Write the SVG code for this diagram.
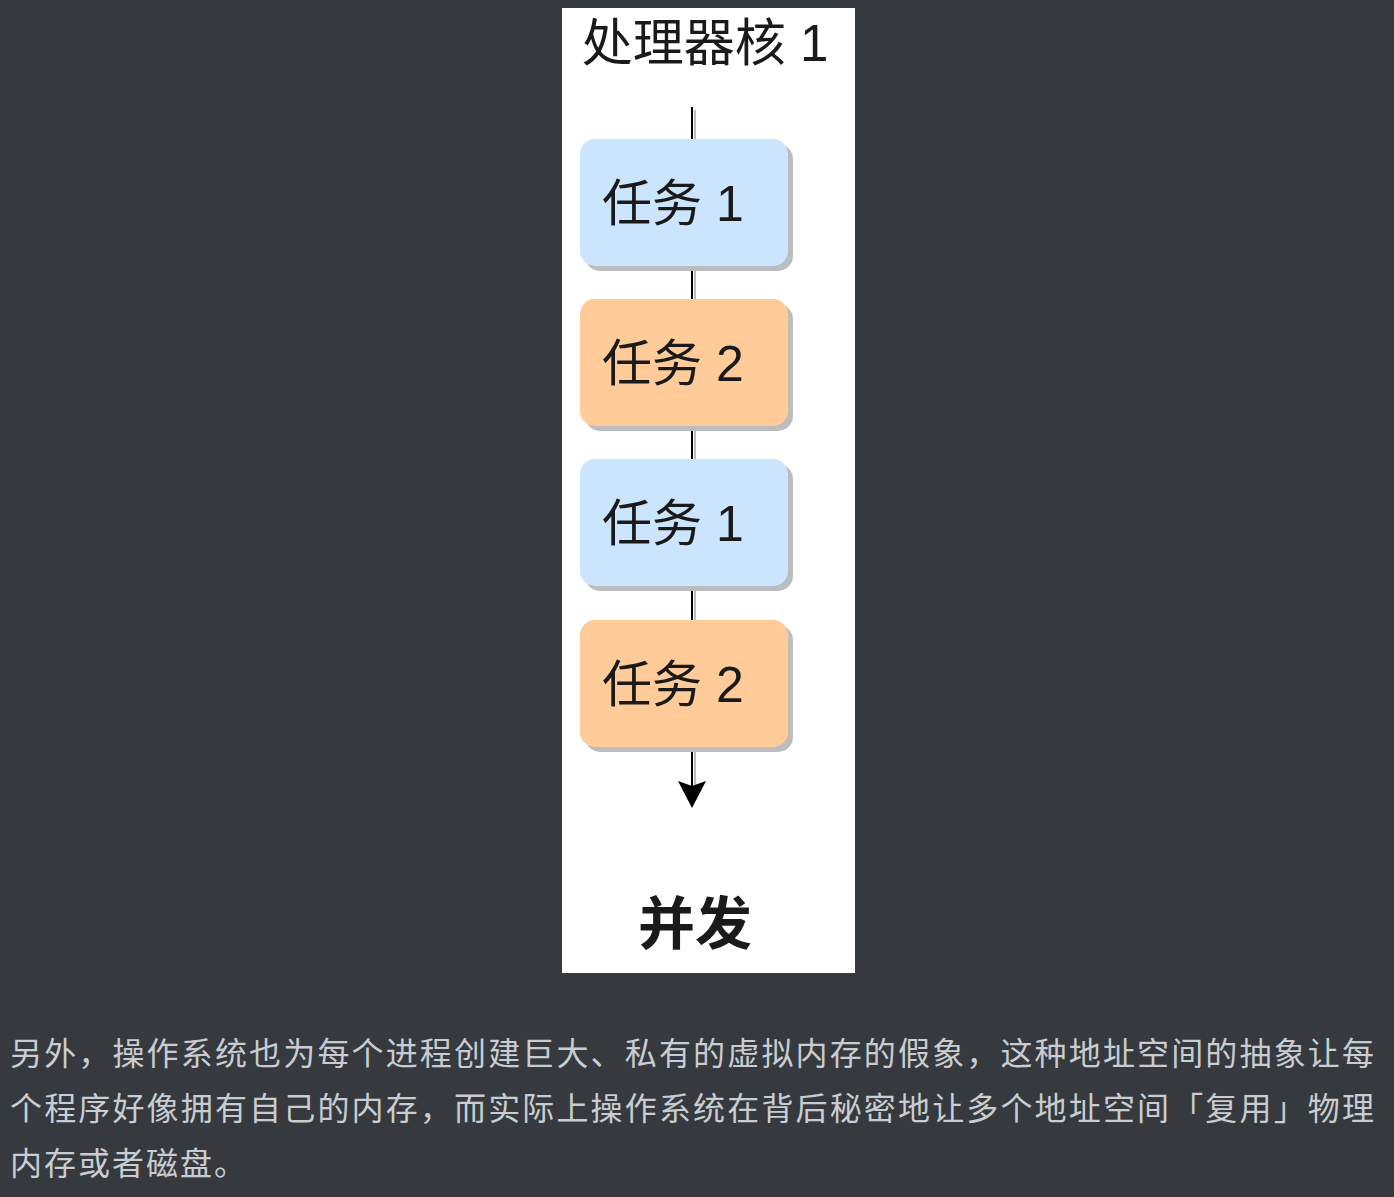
<svg xmlns="http://www.w3.org/2000/svg" width="1394" height="1197" viewBox="0 0 1394 1197">
<style>
.t{font-family:"Liberation Sans","Noto Sans CJK SC",sans-serif;fill:#1a1a1a}
.p{font-family:"Noto Sans CJK SC","Liberation Sans",sans-serif;fill:#c9cdd1;font-size:32px}
.sh{fill:#bdbdbd}
.blue{fill:#cce5ff}
.orange{fill:#ffcc99}
</style>
<rect width="1394" height="1197" fill="#363a3f"/>
<rect x="562" y="8" width="293" height="965" fill="#ffffff"/>
<text class="t" x="705" y="61" font-size="51" text-anchor="middle">处理器核 1</text>
<g id="connectors">
<line x1="695" y1="110" x2="695" y2="785" stroke="#bdbdbd" stroke-width="2"/>
<line x1="692" y1="107" x2="692" y2="800" stroke="#000" stroke-width="2"/>
<path d="M678,781 L692,808 L706,781 L692,786 Z" fill="#000"/>
</g>
<g id="task1a">
<rect class="sh" x="585" y="144" width="208" height="127" rx="15"/>
<rect class="blue" x="580" y="139" width="208" height="127" rx="15"/>
<text class="t" x="602" y="221" font-size="50">任务 1</text>
</g>
<g id="task2a">
<rect class="sh" x="585" y="304" width="208" height="127" rx="15"/>
<rect class="orange" x="580" y="299" width="208" height="127" rx="15"/>
<text class="t" x="602" y="381" font-size="50">任务 2</text>
</g>
<g id="task1b">
<rect class="sh" x="585" y="464" width="208" height="127" rx="15"/>
<rect class="blue" x="580" y="459" width="208" height="127" rx="15"/>
<text class="t" x="602" y="541" font-size="50">任务 1</text>
</g>
<g id="task2b">
<rect class="sh" x="585" y="625" width="208" height="127" rx="15"/>
<rect class="orange" x="580" y="620" width="208" height="127" rx="15"/>
<text class="t" x="602" y="702" font-size="50">任务 2</text>
</g>
<text class="t" x="695" y="944" font-size="57" font-weight="bold" text-anchor="middle" fill="#000">并发</text>
<text class="p" x="10" y="1065" textLength="1364" lengthAdjust="spacing">另外，操作系统也为每个进程创建巨大、私有的虚拟内存的假象，这种地址空间的抽象让每</text>
<text class="p" x="10" y="1120" textLength="1364" lengthAdjust="spacing">个程序好像拥有自己的内存，而实际上操作系统在背后秘密地让多个地址空间「复用」物理</text>
<text class="p" x="10" y="1175" letter-spacing="2">内存或者磁盘。</text>
</svg>
